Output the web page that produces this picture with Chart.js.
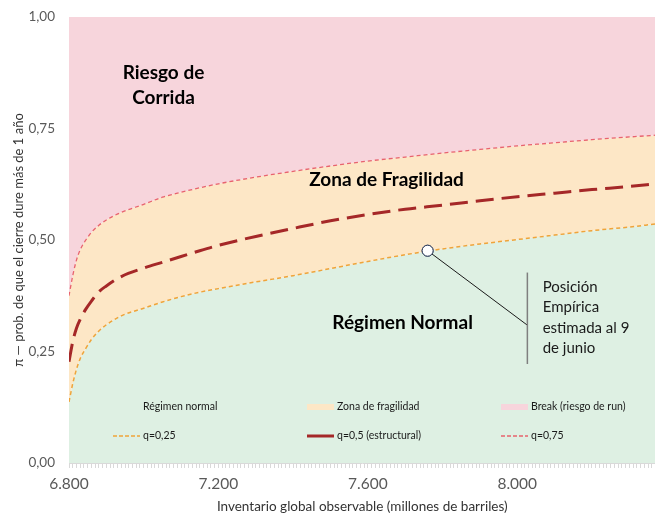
<!DOCTYPE html>
<html>
<head>
<meta charset="utf-8">
<script src="https://cdn.jsdelivr.net/npm/chart.js@4.4.1/dist/chart.umd.min.js"></script>
<style>
  html, body { margin: 0; padding: 0; background: #fff; overflow: hidden; }
  /* un poco mas ancho que la ventana: el area de trazado llega al borde derecho */
  #wrap { width: 662px; height: 515px; }
</style>
</head>
<body>
<div id="wrap"><canvas id="chart"></canvas></div>
<script>
// inventario (millones de barriles) y cuantiles de pi
const inventory = [6800, 6810, 6820, 6830, 6845, 6860, 6880, 6900, 6940, 7000, 7050, 7100, 7150, 7200,
                   7300, 7400, 7500, 7600, 7700, 7800, 7900, 8000, 8100, 8200, 8300, 8370];
const q25 = [0.137, 0.178, 0.210, 0.234, 0.257, 0.277, 0.296, 0.310, 0.330, 0.347, 0.361, 0.373, 0.383, 0.391,
             0.406, 0.420, 0.436, 0.452, 0.467, 0.480, 0.491, 0.501, 0.511, 0.521, 0.529, 0.536];
const q50 = [0.227, 0.272, 0.302, 0.322, 0.345, 0.363, 0.384, 0.397, 0.418, 0.437, 0.450, 0.463, 0.476, 0.488,
             0.508, 0.526, 0.543, 0.557, 0.569, 0.578, 0.588, 0.597, 0.605, 0.613, 0.620, 0.626];
const q75 = [0.375, 0.420, 0.455, 0.478, 0.500, 0.517, 0.533, 0.545, 0.562, 0.580, 0.596, 0.607, 0.617, 0.626,
             0.641, 0.654, 0.666, 0.677, 0.686, 0.695, 0.703, 0.711, 0.718, 0.725, 0.731, 0.735];
const empirical = [{ x: 7760, y: 0.476 }];
const xRange = [6800, 8370];
const xLabelEvery = 400;
const yTickStep = 0.25;

const pts = arr => inventory.map((x, i) => ({ x: x, y: arr[i] }));
const fmtX = v => String(v).replace(/\B(?=(\d{3})+(?!\d))/g, '.');
const fmtY = v => v.toFixed(2).replace('.', ',');

// textos sobre el area del grafico (coordenadas en datos)
const zoneLabels = [
    { lines: ['Riesgo de', 'Corrida'], x: 7053, y: 0.847 },
    { lines: ['Zona de Fragilidad'], x: 7650, y: 0.635 },
    { lines: ['Régimen Normal'], x: 7693, y: 0.314 },
];
const callout = {
    elbow: { x: 8027, y: 0.309 },
    bar: { x: 8027, top: 0.427, bottom: 0.222 },
    text: { x: 8068, y: 0.395, lines: ['Posición', 'Empírica', 'estimada al 9', 'de junio'] },
};

// area de trazado: izq 69, arriba 17, abajo 463
const plotBox = { left: 69, top: 17, bottom: 463 };

const overlay = {
    id: 'overlay',
    afterDatasetsDraw(chart) {
        const { ctx, scales: { x, y } } = chart;
        ctx.save();
        // callout
        const p = empirical[0];
        ctx.strokeStyle = '#1a1a1a';
        ctx.lineWidth = 1;
        ctx.beginPath();
        ctx.moveTo(x.getPixelForValue(p.x), y.getPixelForValue(p.y));
        ctx.lineTo(x.getPixelForValue(callout.elbow.x), y.getPixelForValue(callout.elbow.y));
        ctx.stroke();
        ctx.strokeStyle = '#7f7f7f';
        ctx.lineWidth = 1.5;
        ctx.beginPath();
        ctx.moveTo(x.getPixelForValue(callout.bar.x), y.getPixelForValue(callout.bar.top));
        ctx.lineTo(x.getPixelForValue(callout.bar.x), y.getPixelForValue(callout.bar.bottom));
        ctx.stroke();
        ctx.fillStyle = '#1a1a1a';
        ctx.font = '15px Lato, sans-serif';
        ctx.textAlign = 'left';
        ctx.textBaseline = 'middle';
        callout.text.lines.forEach((t, i) => {
            ctx.fillText(t, x.getPixelForValue(callout.text.x), y.getPixelForValue(callout.text.y) + i * 20.5);
        });
        // zonas
        ctx.fillStyle = '#000';
        ctx.font = 'bold 19px Lato, sans-serif';
        ctx.textAlign = 'center';
        zoneLabels.forEach(l => {
            const cx = x.getPixelForValue(l.x);
            const cy = y.getPixelForValue(l.y) - (l.lines.length - 1) * 12.5;
            l.lines.forEach((t, i) => ctx.fillText(t, cx, cy + i * 25));
        });
        // punto empirico encima de la flecha
        const meta = chart.getDatasetMeta(chart.data.datasets.length - 1);
        meta.data.forEach(el => el.draw(ctx));
        ctx.restore();
    },
    afterDraw(chart) {
        // leyenda dentro del area de trazado
        const { ctx, chartArea } = chart;
        const cols = [113, 307, 501];
        const rows = [407, 436];
        ctx.save();
        ctx.font = '10.5px Lato, sans-serif';
        ctx.textBaseline = 'middle';
        ctx.textAlign = 'left';
        chart.data.datasets.filter(d => !d.noLegend).forEach((d, i) => {
            const sx = chartArea.left + cols[i % 3] - 69;
            const sy = rows[Math.floor(i / 3)];
            if (d.borderWidth > 0) {
                ctx.strokeStyle = d.borderColor;
                ctx.lineWidth = d.borderWidth;
                ctx.setLineDash(d.legendDash || []);
                ctx.beginPath();
                ctx.moveTo(sx, sy);
                ctx.lineTo(sx + 27, sy);
                ctx.stroke();
                ctx.setLineDash([]);
            } else {
                ctx.fillStyle = d.backgroundColor;
                ctx.fillRect(sx, sy - 3, 27, 6);
            }
            ctx.fillStyle = '#1a1a1a';
            ctx.fillText(d.label, sx + 30, sy);
        });
        ctx.restore();
    }
};

Chart.defaults.font.family = 'Lato, sans-serif';

const chart = new Chart(document.getElementById('chart'), {
    type: 'line',
    data: {
        datasets: [
            { label: 'Régimen normal', data: pts(q25), borderWidth: 0, backgroundColor: '#DEF0E3', fill: 'origin', order: 10 },
            { label: 'Zona de fragilidad', data: pts(q75), borderWidth: 0, backgroundColor: '#FDE7C6', fill: 0, order: 9 },
            { label: 'Break (riesgo de run)', data: pts(q75), borderWidth: 0, backgroundColor: '#F7D5DC', fill: 'end', order: 8 },
            { label: 'q=0,25', data: pts(q25), borderColor: '#EFA43A', borderWidth: 1.5, borderDash: [4, 3], legendDash: [4, 2], fill: false, order: 3 },
            { label: 'q=0,5 (estructural)', data: pts(q50), borderColor: '#A52828', borderWidth: 3, borderDash: [18, 8], fill: false, order: 2 },
            { label: 'q=0,75', data: pts(q75), borderColor: '#E8636E', borderWidth: 1.3, borderDash: [4, 3], legendDash: [4, 2], fill: false, order: 1 },
            {
                label: 'Posición empírica', data: empirical, noLegend: true, showLine: false, order: 0,
                pointRadius: 5.5, pointBackgroundColor: '#fff', pointBorderColor: '#2F3E5C', pointBorderWidth: 1
            },
        ]
    },
    options: {
        animation: false,
        responsive: true,
        maintainAspectRatio: false,
        layout: { padding: 0 },
        elements: {
            point: { radius: 0 },
            line: { cubicInterpolationMode: 'monotone' }
        },
        plugins: {
            legend: { display: false },
            tooltip: { enabled: false }
        },
        scales: {
            x: {
                type: 'linear',
                min: xRange[0],
                max: xRange[1],
                afterFit: s => { s.height = 515 - plotBox.bottom; s.paddingLeft = 0; s.paddingRight = 0; },
                ticks: {
                    stepSize: 10,
                    autoSkip: false,
                    maxRotation: 0,
                    minRotation: 0,
                    padding: 7,
                    color: '#595959',
                    font: { size: 15.5 },
                    callback: v => (v % xLabelEvery === 0 ? fmtX(v) : '')
                },
                grid: { drawOnChartArea: false, tickLength: 5, color: '#D9D9D9' },
                border: { color: '#D9D9D9' },
                title: {
                    display: true,
                    text: 'Inventario global observable (millones de barriles)',
                    color: '#333',
                    font: { size: 13.5 },
                    padding: { top: 0, bottom: 0 }
                }
            },
            y: {
                min: 0,
                max: 1,
                afterFit: s => { s.width = plotBox.left; s.paddingTop = plotBox.top; s.paddingBottom = 0; },
                ticks: {
                    stepSize: yTickStep,
                    padding: 14,
                    color: '#595959',
                    font: { size: 13.5 },
                    callback: v => fmtY(v)
                },
                grid: { display: false, drawTicks: false },
                border: { display: false },
                title: {
                    display: true,
                    text: 'π — prob. de que el cierre dure más de 1 año',
                    color: '#333',
                    font: { size: 13 },
                    padding: { top: 11, bottom: 0 }
                }
            }
        }
    },
    plugins: [overlay]
});
</script>
</body>
</html>
